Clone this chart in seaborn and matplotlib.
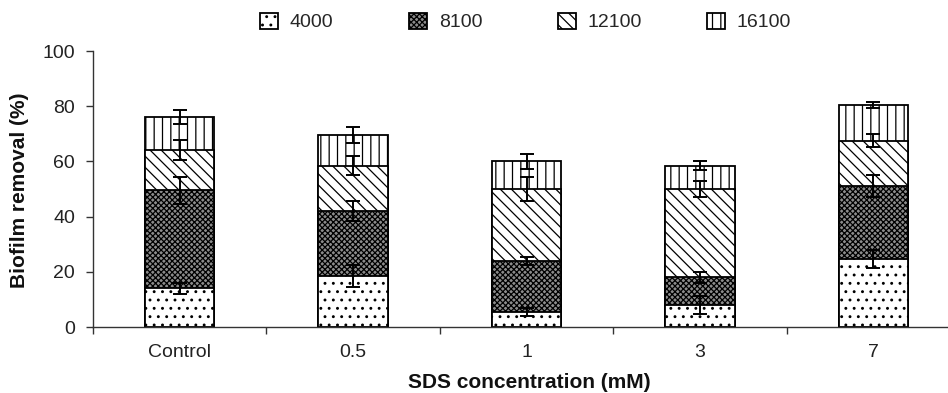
import numpy as np
import pandas as pd
import matplotlib
matplotlib.use("Agg")
import matplotlib.pyplot as plt
import seaborn as sns
from matplotlib.patches import Patch

categories = ["Control", "0.5", "1", "3", "7"]
series = ["4000", "8100", "12100", "16100"]
seg_4000 = [14, 18.5, 5.5, 8, 24.5]
seg_8100 = [35.5, 23.5, 18.5, 10, 26.5]
seg_12100 = [14.5, 16.5, 26, 32, 16.5]
seg_16100 = [12, 11, 10, 8.5, 13]
err_4000 = [2, 4, 1.5, 3.3, 3.3]
err_8100 = [4.8, 3.5, 1.5, 2, 4]
err_12100 = [3.6, 3.5, 4.5, 3, 2.4]
err_16100 = [2.5, 3, 2.6, 1.7, 1.2]

sns.set_theme(style="white")
plt.rcParams["font.family"] = ["Liberation Sans", "DejaVu Sans"]
plt.rcParams["hatch.linewidth"] = 0.9
plt.rcParams["hatch.color"] = "black"

segs = [seg_4000, seg_8100, seg_12100, seg_16100]
errs = [err_4000, err_8100, err_12100, err_16100]
cum = np.cumsum(np.array(segs), axis=0)
df = pd.DataFrame({"cat": categories})
for s, c in zip(series, cum):
    df[s] = c

styles = {
    "4000": dict(facecolor="white", hatch=".."),
    "8100": dict(facecolor="#8c8c8c", hatch="xxxxxx"),
    "12100": dict(facecolor="white", hatch="\\\\\\"),
    "16100": dict(facecolor="white", hatch="||"),
}

FS = 14
LFS = 15
W, H = 948, 393
fig = plt.figure(figsize=(W / 100, H / 100), dpi=100)
ax = fig.add_axes([93 / W, 1 - 327 / H, (960 - 93) / W, (327 - 51) / H])

for s in reversed(series):
    st = styles[s]
    sns.barplot(data=df, x="cat", y=s, order=categories, ax=ax, width=0.4,
                color=st["facecolor"], hatch=st["hatch"], edgecolor="black",
                linewidth=1.3, errorbar=None, saturation=1)

xpos = np.arange(len(categories))
for c, e in zip(cum, errs):
    ax.errorbar(xpos, c, yerr=e, fmt="none", ecolor="black", elinewidth=1.4,
                capsize=5, capthick=1.4, zorder=5)

ax.set_xlim(-0.5, 4.5)
ax.set_ylim(0, 100)
ax.set_yticks(np.arange(0, 101, 20))
ax.set_xticks(xpos)
ax.set_xticklabels(categories, fontsize=FS, color="#222222")
ax.set_xticks(np.arange(-0.5, 5, 1), minor=True)
ax.tick_params(axis="x", which="major", length=0, pad=12)
ax.tick_params(axis="x", which="minor", length=5, width=1, color="#333333", direction="out", bottom=True)
ax.tick_params(axis="y", length=5, width=1, color="#333333", direction="out", left=True,
               labelsize=FS, labelcolor="#222222", pad=8)
for side in ["top", "right"]:
    ax.spines[side].set_visible(False)
for side in ["left", "bottom"]:
    ax.spines[side].set_color("#333333")
    ax.spines[side].set_linewidth(1)
ax.set_xlabel("SDS concentration (mM)", fontsize=LFS, fontweight="bold", color="#111111")
ax.xaxis.set_label_coords((529 - 93) / (960 - 93), -(383 - 327) / (327 - 51))
ax.set_ylabel("Biofilm removal (%)", fontsize=LFS, fontweight="bold", color="#111111")
ax.yaxis.set_label_coords(-(93 - 20) / (960 - 93), (327 - 190) / (327 - 51))
ax.xaxis.label.set_va("center")
ax.yaxis.label.set_va("center")

leg_x = [260, 409, 558, 707]
for s, lx in zip(series, leg_x):
    st = styles[s]
    h = Patch(facecolor=st["facecolor"], hatch=st["hatch"], edgecolor="black", linewidth=1.3)
    fig.legend([h], [s], loc="center left", bbox_to_anchor=(lx / W, 1 - 22 / H),
               frameon=False, fontsize=FS, handlelength=0.93, handleheight=0.9,
               handletextpad=0.6, borderpad=0, borderaxespad=0)

fig.savefig("out.png", dpi=100)
